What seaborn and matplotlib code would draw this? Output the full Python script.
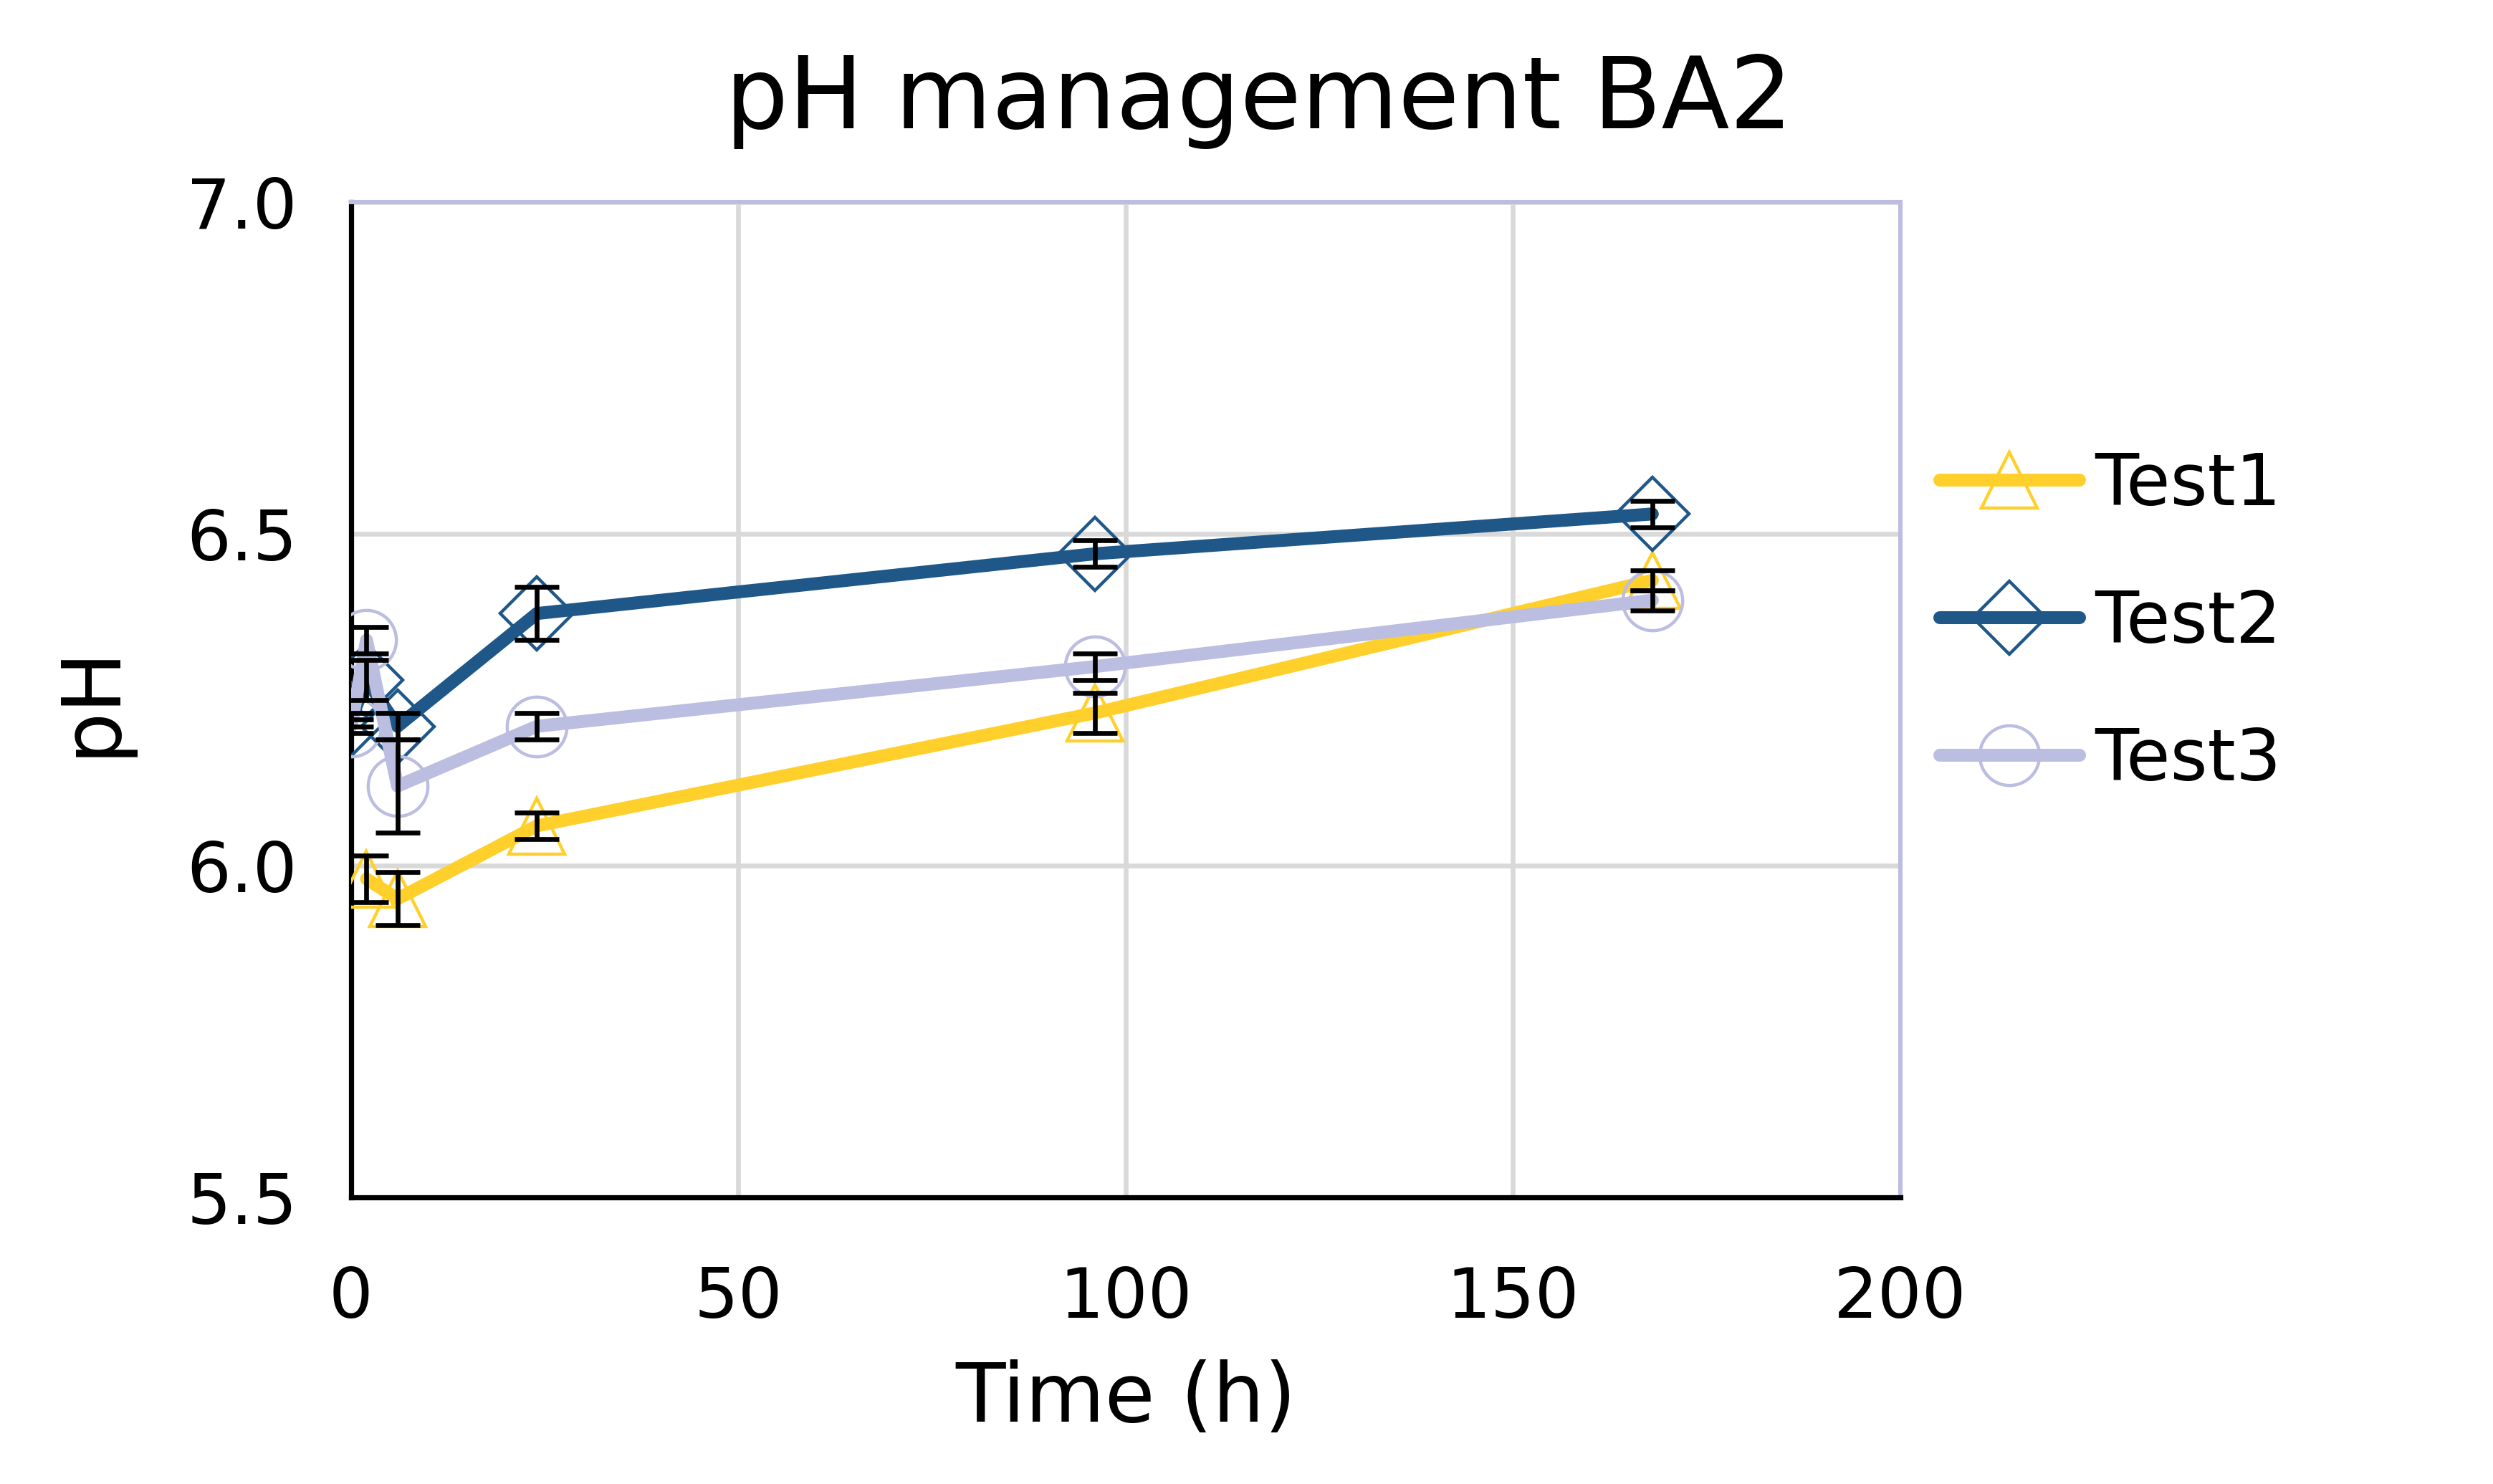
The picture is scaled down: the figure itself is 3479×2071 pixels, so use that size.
import numpy as np
import pandas as pd
import matplotlib
matplotlib.use("Agg")
import matplotlib.pyplot as plt
from matplotlib.ticker import FormatStrFormatter
import seaborn as sns

# data
series = ["Test1", "Test2", "Test3"]
time_test1 = [2, 6, 24, 96, 168]
ph_test1 = [5.98, 5.95, 6.06, 6.23, 6.43]
err_test1 = [0.035, 0.04, 0.02, 0.03, 0.015]

time_test2 = [0, 2, 6, 24, 96, 168]
ph_test2 = [6.22, 6.28, 6.21, 6.38, 6.47, 6.53]
err_test2 = [0.01, 0.03, 0.02, 0.04, 0.02, 0.02]

time_test3 = [0, 2, 6, 24, 96, 168]
ph_test3 = [6.21, 6.34, 6.12, 6.21, 6.30, 6.40]
err_test3 = [0.01, 0.02, 0.07, 0.02, 0.02, 0.015]

x_ticks = [0, 50, 100, 150, 200]
y_ticks = [5.5, 6.0, 6.5, 7.0]

colors = {"Test1": "#FFD02B", "Test2": "#1F5888", "Test3": "#BBBDE1"}
markers = {"Test1": "^", "Test2": "D", "Test3": "o"}
msizes = {"Test1": 28, "Test2": 26, "Test3": 30}

df = pd.concat([
    pd.DataFrame({"Time": time_test1, "pH": ph_test1, "err": err_test1, "Series": "Test1"}),
    pd.DataFrame({"Time": time_test2, "pH": ph_test2, "err": err_test2, "Series": "Test2"}),
    pd.DataFrame({"Time": time_test3, "pH": ph_test3, "err": err_test3, "Series": "Test3"}),
])

sns.set_style("white")
plt.rcParams["font.family"] = ["DejaVu Sans"]
for k in ["text.color", "axes.labelcolor", "xtick.color", "ytick.color"]:
    plt.rcParams[k] = "black"

fig = plt.figure(figsize=(3479 / 200, 2071 / 200), dpi=200)
ax = fig.add_axes([0.1408, 0.1931, 0.6214, 0.6707])

for i, s in enumerate(series):
    d = df[df["Series"] == s]
    sns.lineplot(data=d, x="Time", y="pH", ax=ax, color=colors[s], lw=6.5,
                 marker=markers[s], markersize=msizes[s], mfc="none",
                 mec=colors[s], mew=1.6, label=s, zorder=3 + i,
                 solid_capstyle="round", solid_joinstyle="round")
    ax.errorbar(d["Time"], d["pH"], yerr=d["err"], fmt="none", ecolor="black",
                elinewidth=2.4, capsize=11, capthick=2.4, zorder=10)

ax.set_xlim(0, 200)
ax.set_ylim(5.5, 7.0)
ax.set_xticks(x_ticks)
ax.set_yticks(y_ticks)
ax.yaxis.set_major_formatter(FormatStrFormatter("%.1f"))
ax.tick_params(axis="both", length=0, labelsize=35)
ax.tick_params(axis="x", pad=34)
ax.tick_params(axis="y", pad=27)
ax.grid(True, color="#D9D9D9", lw=2.4)
ax.set_axisbelow(True)

for side in ["left", "bottom"]:
    ax.spines[side].set_color("black")
    ax.spines[side].set_linewidth(2.6)
for side in ["top", "right"]:
    ax.spines[side].set_color("#BBBDE1")
    ax.spines[side].set_linewidth(2.2)

ax.set_xlabel("Time (h)", fontsize=41, labelpad=14)
ax.set_ylabel("pH", fontsize=41, labelpad=28)
fig.suptitle("pH management BA2", fontsize=50, x=0.505, y=0.932, va="center")

ax.legend(loc="center left", bbox_to_anchor=(0.778, 0.580), bbox_transform=fig.transFigure,
          frameon=False, fontsize=36, handlelength=1.95, handletextpad=0.22,
          labelspacing=0.95, borderaxespad=0, borderpad=0)

fig.savefig("out.png", dpi=200)
